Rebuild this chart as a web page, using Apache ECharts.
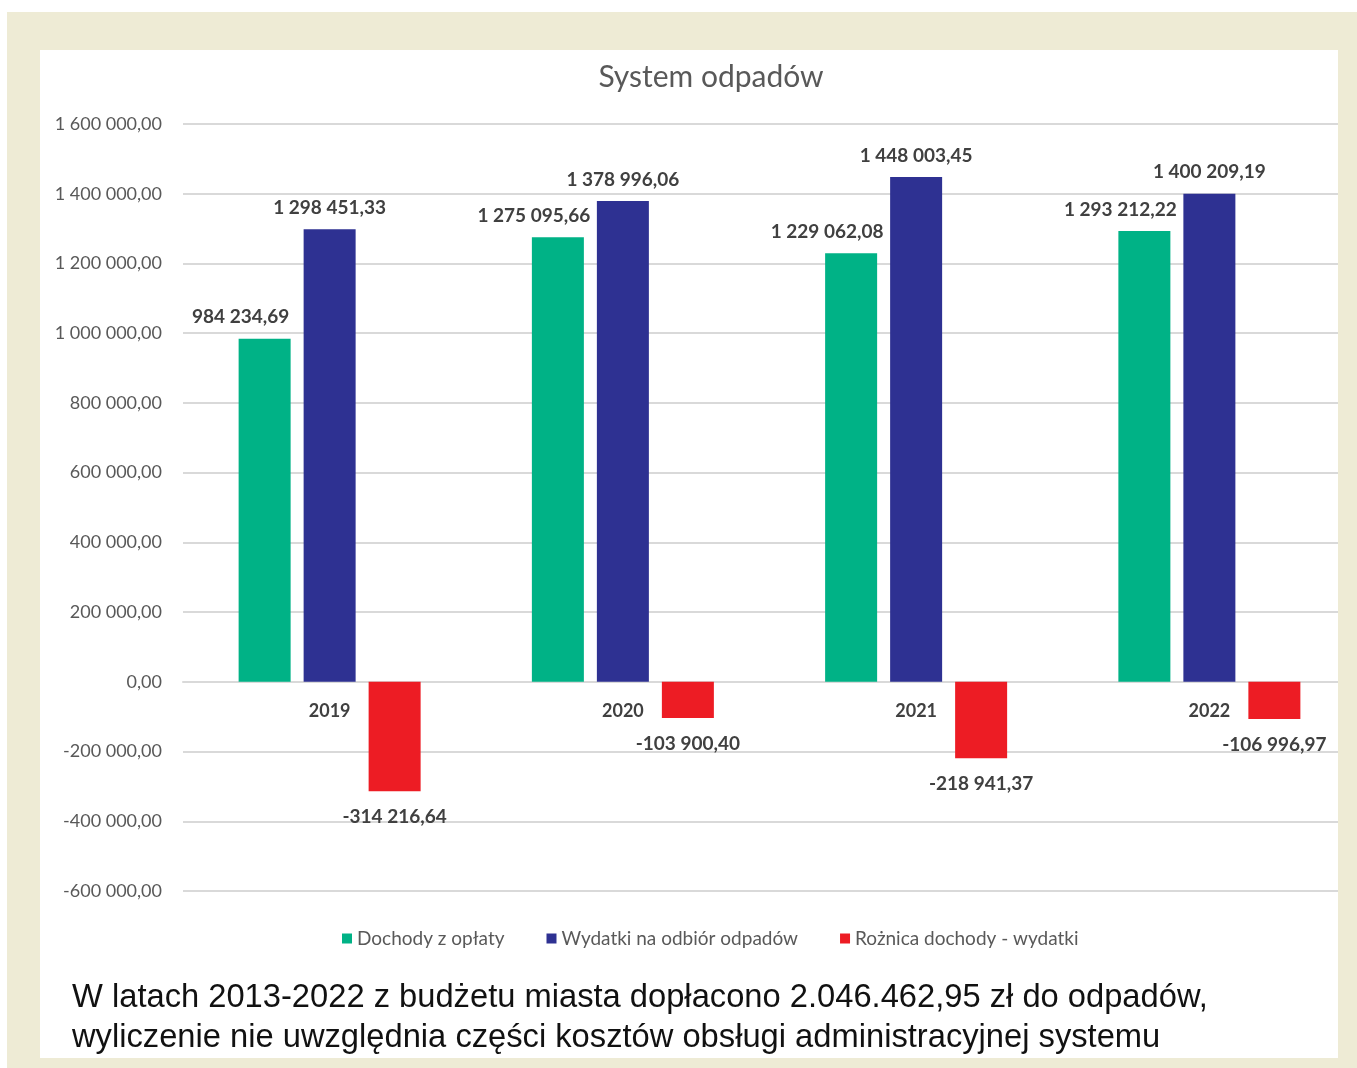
<!DOCTYPE html>
<html><head><meta charset="utf-8">
<script src="https://cdn.jsdelivr.net/npm/echarts@6/dist/echarts.min.js"></script>
<style>html,body{margin:0;padding:0;background:#fff}#c{width:1357px;height:1068px}</style>
</head><body><div id="c"></div>
<script>
const categories = ['2019', '2020', '2021', '2022'];
const dochody = [984234.69, 1275095.66, 1229062.08, 1293212.22];
const wydatki = [1298451.33, 1378996.06, 1448003.45, 1400209.19];
const roznica = [-314216.64, -103900.40, -218941.37, -106996.97];
const seriesNames = ['Dochody z opłaty', 'Wydatki na odbiór odpadów', 'Rożnica dochody - wydatki'];
const titleText = 'System odpadów';
const captionLines = ['W latach 2013-2022 z budżetu miasta dopłacono 2.046.462,95 zł do odpadów,', 'wyliczenie nie uwzględnia części kosztów obsługi administracyjnej systemu'];

function fmt(v) {
  const neg = v < 0; v = Math.abs(v);
  let [i, d] = v.toFixed(2).split('.');
  i = i.replace(/\B(?=(\d{3})+(?!\d))/g, ' ');
  return (neg ? '-' : '') + i + ',' + d;
}
const F = 'Lato, "Open Sans", sans-serif';
const labelTop = {show: true, position: 'top', distance: 12, fontFamily: F, fontWeight: 'bold', fontSize: 19, color: '#404040', formatter: p => fmt(p.value)};
const chart = echarts.init(document.getElementById('c'));
chart.setOption({
  animation: false,
  backgroundColor: '#ffffff',
  title: {text: titleText, left: 706, top: 57, textAlign: 'center', textStyle: {fontFamily: F, fontWeight: 'normal', fontSize: 30, color: '#595959'}},
  legend: {bottom: 115, left: 337, itemWidth: 10, itemHeight: 10, itemGap: 42, icon: 'rect', textStyle: {fontFamily: F, fontSize: 19, color: '#595959'}, data: seriesNames},
  grid: {left: 183, right: 1, top: 124, bottom: 177, containLabel: false},
  xAxis: {type: 'category', data: categories, axisLine: {onZero: true, lineStyle: {color: '#d9d9d9', width: 2}}, axisTick: {show: false},
    axisLabel: {fontFamily: F, fontWeight: 'bold', fontSize: 18, color: '#404040', margin: -180, verticalAlign: 'middle'}},
  yAxis: {type: 'value', min: -600000, max: 1600000, interval: 200000, axisLine: {show: false}, axisTick: {show: false},
    splitLine: {lineStyle: {color: '#d9d9d9', width: 2}},
    axisLabel: {fontFamily: F, fontSize: 18, color: '#595959', margin: 21, formatter: v => fmt(v)}},
  series: [
    {name: seriesNames[0], type: 'bar', data: dochody, barWidth: 52, barGap: '25%', itemStyle: {color: '#00B286'}, label: Object.assign({}, labelTop, {offset: [-24, 0]})},
    {name: seriesNames[1], type: 'bar', data: wydatki, barWidth: 52, barGap: '25%', itemStyle: {color: '#2E3192'}, label: labelTop},
    {name: seriesNames[2], type: 'bar', data: roznica, barWidth: 52, barGap: '25%', itemStyle: {color: '#ED1C24'}, label: Object.assign({}, labelTop, {position: 'bottom', distance: 16})}
  ],
  graphic: [
    {type: 'rect', z: -10, silent: true, shape: {x: 7, y: 12, width: 1350, height: 1056}, style: {fill: '#EEEBD5'}},
    {type: 'rect', z: -9, silent: true, shape: {x: 40, y: 50, width: 1298, height: 1008}, style: {fill: '#ffffff'}},
    {type: 'rect', z: 100, silent: true, shape: {x: 1338, y: 12, width: 19, height: 1056}, style: {fill: '#EEEBD5'}},
    {type: 'text', z: 100, left: 72, top: 978, style: {text: captionLines.join('\n'), font: '32.7px "Liberation Sans", Arial, sans-serif', fill: '#111111', lineHeight: 40}}
  ]
});
</script></body></html>
